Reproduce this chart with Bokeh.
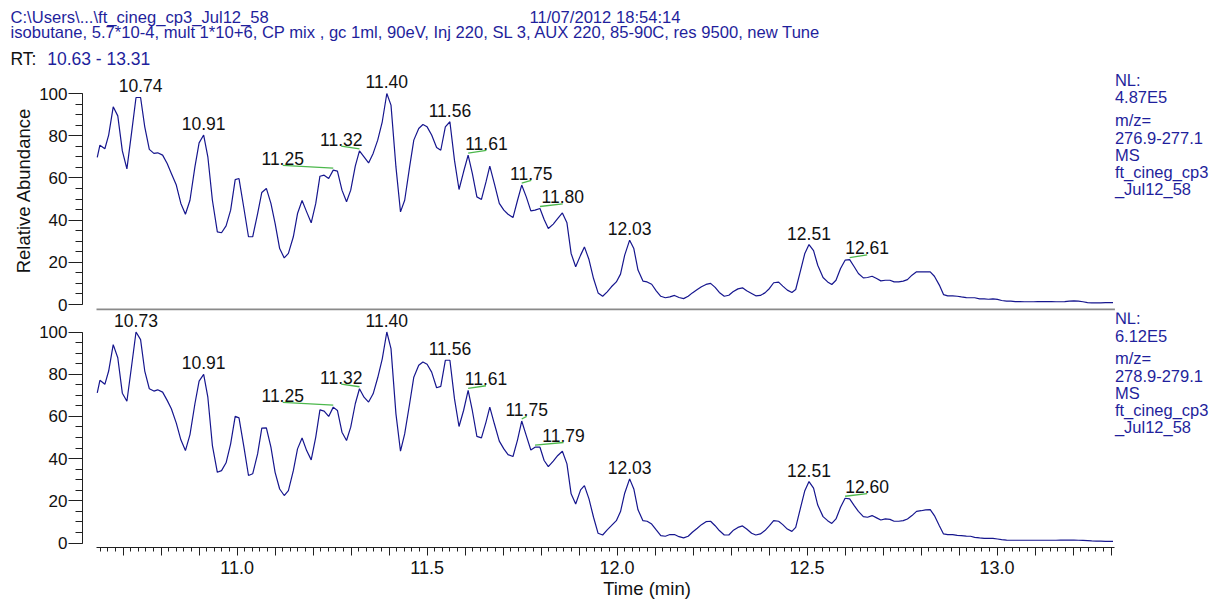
from bokeh.plotting import figure
from bokeh.layouts import column, row
from bokeh.models import (Range1d, FixedTicker, CustomJSTickFormatter, ColumnDataSource,
                          LinearAxis)
from bokeh.embed import file_html
from bokeh.resources import INLINE
from bokeh.core.properties import value

FONT = "Liberation Sans"
NAVY = "#1f1f9c"
TRACE = "#16168e"
GREEN = "#4cb84c"
INK = "#111111"
MID = 0.3465   # baseline -> "middle" anchor distance, in em

# ---------------- data ----------------
header_path = "C:\\Users\\...\\ft_cineg_cp3_Jul12_58"
header_date = "11/07/2012 18:54:14"
header_method = ("isobutane, 5.7*10-4, mult 1*10+6, CP mix , gc 1ml, 90eV, Inj 220, SL 3, "
                 "AUX 220, 85-90C, res 9500, new Tune")
rt_caption = "RT:"
rt_range_text = "10.63 - 13.31"
rt_start, rt_end = 10.63, 13.31

times = [
    10.632, 10.639, 10.652, 10.662, 10.674, 10.686, 10.698, 10.710, 10.722, 10.734,
    10.746, 10.757, 10.769, 10.781, 10.791, 10.804, 10.816, 10.827, 10.840, 10.852,
    10.864, 10.876, 10.889, 10.900, 10.912, 10.923, 10.935, 10.948, 10.959, 10.971,
    10.983, 10.995, 11.005, 11.018, 11.030, 11.041, 11.054, 11.065, 11.077, 11.089,
    11.100, 11.112, 11.124, 11.135, 11.148, 11.159, 11.171, 11.183, 11.195, 11.207,
    11.218, 11.229, 11.241, 11.253, 11.264, 11.276, 11.288, 11.299, 11.311, 11.322,
    11.334, 11.346, 11.358, 11.370, 11.382, 11.394, 11.405, 11.418, 11.430, 11.441,
    11.454, 11.465, 11.478,
    11.489, 11.500, 11.512, 11.525, 11.536, 11.548, 11.560, 11.572, 11.584, 11.596,
    11.608, 11.619, 11.631, 11.643, 11.655, 11.665, 11.677, 11.690, 11.702, 11.713,
    11.726, 11.738, 11.749, 11.761, 11.773, 11.784, 11.797, 11.808, 11.819, 11.832,
    11.844, 11.856, 11.868, 11.879, 11.891, 11.904, 11.914, 11.926, 11.938, 11.950,
    11.962, 11.974, 11.985, 11.998, 12.009, 12.020, 12.033, 12.044, 12.055, 12.068,
    12.079, 12.091, 12.103, 12.115, 12.127, 12.139, 12.151, 12.163, 12.175, 12.187,
    12.198, 12.211, 12.222, 12.234, 12.246, 12.258, 12.269, 12.282, 12.294, 12.305,
    12.318, 12.330, 12.341, 12.354, 12.365, 12.377, 12.389, 12.401, 12.412, 12.425,
    12.436, 12.448, 12.460, 12.470, 12.483, 12.494, 12.505, 12.517, 12.528,
    12.542, 12.554, 12.565, 12.576, 12.588, 12.600, 12.612, 12.624, 12.635, 12.648,
    12.659, 12.671, 12.683, 12.694, 12.706, 12.718, 12.729, 12.741, 12.753, 12.764,
    12.776, 12.788, 12.800, 12.812, 12.824, 12.835, 12.848, 12.859, 12.870, 12.883,
    12.895, 12.906, 12.919, 12.930, 12.941, 12.954, 12.966, 12.977, 12.989, 13.001,
    13.012, 13.025, 13.036, 13.048, 13.060, 13.072, 13.083, 13.096, 13.107, 13.119,
    13.131, 13.143, 13.155, 13.167, 13.178, 13.190, 13.202, 13.214, 13.226, 13.238,
    13.249, 13.261, 13.273, 13.285, 13.297, 13.305,
]

top_abundance = [
    69.7, 75.5, 73.8, 80.3, 93.7, 89.4, 72.8, 64.3, 81.0, 98.1,
    98.1, 84.2, 73.5, 71.6, 71.9, 70.8, 66.8, 62.1, 56.6, 47.9,
    42.8, 49.4, 65.2, 76.6, 80.3, 70.0, 49.4, 34.4, 34.0, 37.3,
    44.7, 59.2, 59.7, 45.5, 32.1, 32.1, 43.1, 53.1, 55.0, 47.9,
    38.4, 26.5, 22.1, 24.2, 32.1, 43.1, 49.3, 43.9, 38.7, 47.9,
    60.8, 61.3, 59.7, 63.7, 63.2, 54.2, 48.7, 54.2, 65.6, 72.8,
    70.0, 67.1, 71.6, 77.9, 86.6, 100.0, 94.5, 65.2, 43.9, 49.4,
    65.2, 77.9, 83.4,
    85.3, 84.2, 80.3, 74.4, 73.1, 84.2, 86.6, 68.4, 54.5, 62.9,
    70.8, 62.1, 51.0, 49.8, 58.1, 65.6, 57.3, 47.9, 44.7, 42.8,
    41.2, 49.4, 56.6, 51.0, 44.4, 44.7, 45.5, 40.3, 36.0, 38.1,
    40.8, 43.4, 38.7, 24.2, 17.9, 23.4, 27.3, 21.3, 12.3, 5.5,
    3.9, 6.0, 8.4, 10.7, 14.4, 23.4, 30.5, 26.5, 16.3, 11.1,
    10.7, 9.6, 6.5, 3.9, 3.2, 3.6, 4.3, 3.3, 2.8, 3.9,
    5.5, 7.1, 8.4, 9.5, 10.0, 8.1, 5.7, 3.9, 4.4, 6.0,
    7.4, 7.9, 6.5, 5.2, 4.1, 4.3, 5.5, 7.6, 10.3, 10.6,
    8.7, 6.8, 5.7, 7.1, 16.3, 24.2, 28.4, 25.5, 18.6,
    12.8, 10.7, 9.5, 11.5, 17.1, 21.0, 21.3, 17.9, 14.7, 12.6,
    12.8, 13.4, 12.3, 11.2, 11.5, 11.5, 10.7, 10.7, 11.1, 11.8,
    13.9, 15.5, 15.5, 15.5, 15.5, 13.4, 9.2, 4.7, 4.1, 4.1,
    3.9, 3.6, 3.3, 3.2, 3.2, 2.7, 2.7, 2.5, 2.7, 2.4,
    1.9, 1.6, 1.6, 1.4, 1.4, 1.3, 1.3, 1.3, 1.4, 1.4,
    1.4, 1.4, 1.3, 1.3, 1.4, 1.6, 1.7, 1.6, 1.3, 0.9,
    0.8, 0.8, 0.8, 0.9, 0.9, 0.9,
]

bottom_abundance = [
    71.2, 77.1, 75.2, 81.5, 94.0, 87.8, 71.0, 67.2, 83.4, 100.0,
    96.4, 81.5, 73.1, 72.0, 72.6, 71.5, 67.6, 63.6, 56.8, 48.9,
    43.8, 51.4, 66.0, 76.7, 79.9, 69.1, 46.2, 33.5, 34.3, 38.0,
    47.0, 60.0, 59.3, 45.4, 32.0, 32.8, 42.2, 54.4, 54.6, 45.4,
    33.5, 25.6, 22.5, 24.8, 34.3, 44.6, 49.8, 43.8, 39.4, 50.2,
    63.1, 62.5, 60.0, 64.4, 62.8, 52.5, 48.6, 54.9, 66.0, 73.1,
    69.1, 66.8, 70.7, 78.3, 87.3, 100.0, 92.1, 61.2, 43.5, 51.7,
    66.0, 78.6, 84.2,
    85.8, 84.7, 81.0, 73.6, 74.2, 86.6, 86.6, 68.4, 55.2, 62.8,
    72.3, 62.8, 50.5, 49.8, 57.3, 64.4, 56.5, 48.3, 44.6, 41.9,
    41.0, 48.9, 57.8, 50.9, 44.1, 45.4, 45.4, 39.1, 36.2, 38.8,
    41.5, 43.5, 37.5, 23.3, 18.5, 25.2, 27.2, 20.9, 12.2, 4.6,
    3.8, 6.2, 8.2, 10.6, 14.9, 23.6, 30.4, 25.6, 15.7, 10.6,
    10.3, 9.0, 6.2, 3.5, 3.2, 4.0, 4.0, 3.0, 2.4, 3.2,
    5.1, 7.0, 8.7, 10.1, 10.3, 8.2, 5.9, 3.8, 3.8, 5.9,
    7.4, 8.1, 6.6, 4.6, 3.8, 4.3, 5.9, 8.2, 10.6, 10.3,
    8.7, 6.6, 5.5, 7.4, 16.9, 24.8, 29.1, 26.0, 18.0,
    12.5, 10.6, 9.3, 11.4, 16.9, 21.2, 20.9, 17.7, 15.0, 12.5,
    12.2, 13.0, 11.9, 10.9, 11.4, 11.2, 10.3, 10.3, 10.6, 11.4,
    13.0, 15.0, 15.3, 15.7, 15.8, 13.0, 8.2, 4.3, 4.0, 4.0,
    3.6, 3.5, 3.3, 3.2, 2.7, 2.4, 2.2, 2.2, 2.2, 1.9,
    1.6, 1.4, 1.3, 1.3, 1.3, 1.3, 1.3, 1.3, 1.3, 1.3,
    1.3, 1.3, 1.3, 1.4, 1.4, 1.4, 1.4, 1.3, 1.2, 1.1,
    1.0, 0.9, 0.9, 0.8, 0.8, 0.8,
]

# labelled peaks: apex time, label text, horizontal label displacement (min)
top_peak_times = [10.746, 10.912, 11.253, 11.322, 11.394, 11.560, 11.608, 11.749, 11.797, 12.033, 12.505, 12.612]
top_peak_labels = ["10.74", "10.91", "11.25", "11.32", "11.40", "11.56", "11.61", "11.75", "11.80", "12.03", "12.51", "12.61"]
top_label_shift = [0, 0, -0.133, -0.048, 0, 0, 0.048, 0.025, 0.060, 0, 0, 0.046]

bottom_peak_times = [10.734, 10.912, 11.253, 11.322, 11.394, 11.560, 11.608, 11.749, 11.784, 12.033, 12.505, 12.600]
bottom_peak_labels = ["10.73", "10.91", "11.25", "11.32", "11.40", "11.56", "11.61", "11.75", "11.79", "12.03", "12.51", "12.60"]
bottom_label_shift = [0, 0, -0.133, -0.048, 0, 0, 0.047, 0.013, 0.075, 0, 0, 0.058]

top_info = ["NL:", "4.87E5", "m/z=", "276.9-277.1", "MS", "ft_cineg_cp3", "_Jul12_58"]
bottom_info = ["NL:", "6.12E5", "m/z=", "278.9-279.1", "MS", "ft_cineg_cp3", "_Jul12_58"]

y_ticks = [0, 20, 40, 60, 80, 100]
y_minor_ticks = [0, 5, 10, 15, 20, 25, 30, 35, 40, 45, 50, 55, 60, 65, 70, 75, 80, 85, 90, 95, 100]
x_ticks = [10.7, 10.8, 10.9, 11.0, 11.1, 11.2, 11.3, 11.4, 11.5, 11.6, 11.7, 11.8, 11.9, 12.0,
           12.1, 12.2, 12.3, 12.4, 12.5, 12.6, 12.7, 12.8, 12.9, 13.0, 13.1, 13.2, 13.3]
x_minor_ticks = [round(10.64 + 0.02 * i, 2) for i in range(134)]

# ---------------- layout constants (pixels) ----------------
W = 1211
LEFT = 82            # y axis line
FRAME_W = W - LEFT
PX_PER_MIN = 380.0
PX_PER_UNIT = 2.11
GAP_PX = 14          # the y axis sits left of the RT start
x_lo = rt_start - GAP_PX / PX_PER_MIN
x_hi = x_lo + FRAME_W / PX_PER_MIN
PEAK_FS = 17.5
INFO_FS = 16.5
info_baseline_dy = [-8, 9.5, 32, 50, 67, 84, 101]   # px below the 100 % line


def nearest_value(t, ts, vs):
    i = min(range(len(ts)), key=lambda k: abs(ts[k] - t))
    return vs[i]


def make_panel(abund, pk_t, pk_lab, pk_shift, info, frame_h, zero_px, bottom_axis, y_title, bottom_border):
    p = figure(frame_width=FRAME_W, frame_height=frame_h, title=None,
               x_range=Range1d(x_lo, x_hi),
               y_range=Range1d(-zero_px / PX_PER_UNIT, (frame_h - zero_px) / PX_PER_UNIT),
               x_axis_type=None, y_axis_type=None, toolbar_location=None,
               output_backend="svg", min_border_left=LEFT, min_border_right=0,
               min_border_top=0, min_border_bottom=bottom_border)
    p.outline_line_color = None
    p.background_fill_color = "white"
    p.border_fill_color = "white"

    ya = LinearAxis(ticker=FixedTicker(ticks=y_ticks, minor_ticks=y_minor_ticks), bounds=(0, 100))
    ya.axis_line_color = "#202020"
    ya.major_tick_line_color = "#202020"
    ya.minor_tick_line_color = "#202020"
    ya.major_tick_out = 14
    ya.major_tick_in = 0
    ya.minor_tick_out = 7
    ya.minor_tick_in = 0
    ya.major_label_standoff = 1
    ya.major_label_text_font = FONT
    ya.major_label_text_font_size = "17px"
    ya.major_label_text_color = INK
    if y_title:
        ya.axis_label = y_title
        ya.axis_label_text_font = FONT
        ya.axis_label_text_font_size = "18.5px"
        ya.axis_label_text_font_style = "normal"
        ya.axis_label_text_color = INK
        ya.axis_label_standoff = 2
    p.add_layout(ya, "left")

    if bottom_axis:
        xa = LinearAxis(ticker=FixedTicker(ticks=x_ticks, minor_ticks=x_minor_ticks),
                        bounds=(rt_start, rt_end))
        xa.formatter = CustomJSTickFormatter(
            code="const h = Math.round(tick * 2); return Math.abs(tick * 2 - h) < 1e-6 ? tick.toFixed(1) : '';")
        xa.axis_line_color = "#202020"
        xa.major_tick_line_color = "#202020"
        xa.minor_tick_line_color = "#202020"
        xa.major_tick_out = 8
        xa.major_tick_in = 0
        xa.minor_tick_out = 4
        xa.minor_tick_in = 0
        xa.major_label_standoff = 5
        xa.major_label_text_font = FONT
        xa.major_label_text_font_size = "18px"
        xa.major_label_text_color = INK
        xa.axis_label = "Time (min)"
        xa.axis_label_text_font = FONT
        xa.axis_label_text_font_size = "18.5px"
        xa.axis_label_text_font_style = "normal"
        xa.axis_label_text_color = INK
        xa.axis_label_standoff = 1
        p.add_layout(xa, "below")
    else:
        # grey separator rule over the RT range, 1 px above the frame bottom
        y_rule = -zero_px / PX_PER_UNIT + 1.0 / PX_PER_UNIT
        p.segment(x0=[rt_start], y0=[y_rule], x1=[rt_end], y1=[y_rule],
                  line_color="#8a8a8a", line_width=2)

    p.line(times, abund, line_color=TRACE, line_width=1.2)

    pk_v = [nearest_value(t, times, abund) for t in pk_t]
    lab_x = [t + s for t, s in zip(pk_t, pk_shift)]
    src = ColumnDataSource(dict(x=lab_x, y=pk_v, text=pk_lab))
    p.text(x="x", y="y", text="text", source=src, text_align="center",
           text_baseline="middle", y_offset=-(5.5 + MID * PEAK_FS), text_font=value(FONT),
           text_font_size=f"{PEAK_FS}px", text_color=INK)

    lead = [(lx, v, t) for lx, v, t, s in zip(lab_x, pk_v, pk_t, pk_shift) if s != 0]
    seg = ColumnDataSource(dict(
        x0=[a[0] for a in lead], y0=[a[1] + 4.7 / PX_PER_UNIT for a in lead],
        x1=[a[2] for a in lead], y1=[a[1] + 2.0 / PX_PER_UNIT for a in lead]))
    p.segment(x0="x0", y0="y0", x1="x1", y1="y1", source=seg, line_color=GREEN, line_width=1.3)

    info_src = ColumnDataSource(dict(x=[rt_end] * len(info), y=[100] * len(info), text=info,
                                     dy=[d - MID * INFO_FS for d in info_baseline_dy]))
    p.text(x="x", y="y", text="text", source=info_src, x_offset=0, y_offset="dy",
           text_align="left", text_baseline="middle", text_font=value(FONT),
           text_font_size=f"{INFO_FS}px", text_color=NAVY)
    return p


# top panel: frame 70..310 (0 % at 304, rule at 308) ; bottom panel: frame 312..547
top = make_panel(top_abundance, top_peak_times, top_peak_labels, top_label_shift, top_info,
                 240, 6, False, "Relative Abundance", 2)
bottom = make_panel(bottom_abundance, bottom_peak_times, bottom_peak_labels, bottom_label_shift,
                    bottom_info, 235, 4.5, True, None, 0)


# ---------------- header strips (pixel coordinates, y downwards) ----------------
def strip(h, fill="white"):
    f = figure(frame_width=W, frame_height=h, title=None,
               x_range=Range1d(0, W), y_range=Range1d(h, 0),
               x_axis_type=None, y_axis_type=None, toolbar_location=None, output_backend="svg",
               min_border=0, min_border_left=0, min_border_right=0, min_border_top=0,
               min_border_bottom=0)
    f.outline_line_color = None
    f.background_fill_color = fill
    f.border_fill_color = fill
    if "frame_align" in f.properties():
        f.frame_align = False
        return f, f
    return f, row(f)


HDR_FS = 16.6
RT_FS = 17.5
hdr_a, hdr_a_item = strip(46)                 # page rows 0..46
rule, rule_item = strip(2, fill="#707070")    # page rows 46..48 : the grey rule
hdr_b, hdr_b_item = strip(22)                 # page rows 48..70

hsrc = ColumnDataSource(dict(x=[10, 529, 10],
                             y=[22.7 - MID * HDR_FS, 22.7 - MID * HDR_FS, 37.7 - MID * HDR_FS],
                             text=[header_path, header_date, header_method]))
hdr_a.text(x="x", y="y", text="text", source=hsrc, text_align="left", text_baseline="middle",
           text_font=value(FONT), text_font_size=f"{HDR_FS}px", text_color=NAVY)

rt_y = 65 - 48 - MID * RT_FS
hdr_b.text(x=[10], y=[rt_y], text=[rt_caption], text_align="left", text_baseline="middle",
           text_font=value(FONT), text_font_size=f"{RT_FS}px", text_color=INK)
hdr_b.text(x=[46.7], y=[rt_y], text=[rt_range_text], text_align="left", text_baseline="middle",
           text_font=value(FONT), text_font_size=f"{RT_FS}px", text_color=NAVY)

layout = column(hdr_a_item, rule_item, hdr_b_item, top, bottom, spacing=0)
open("out.html", "w").write(file_html(layout, INLINE))
